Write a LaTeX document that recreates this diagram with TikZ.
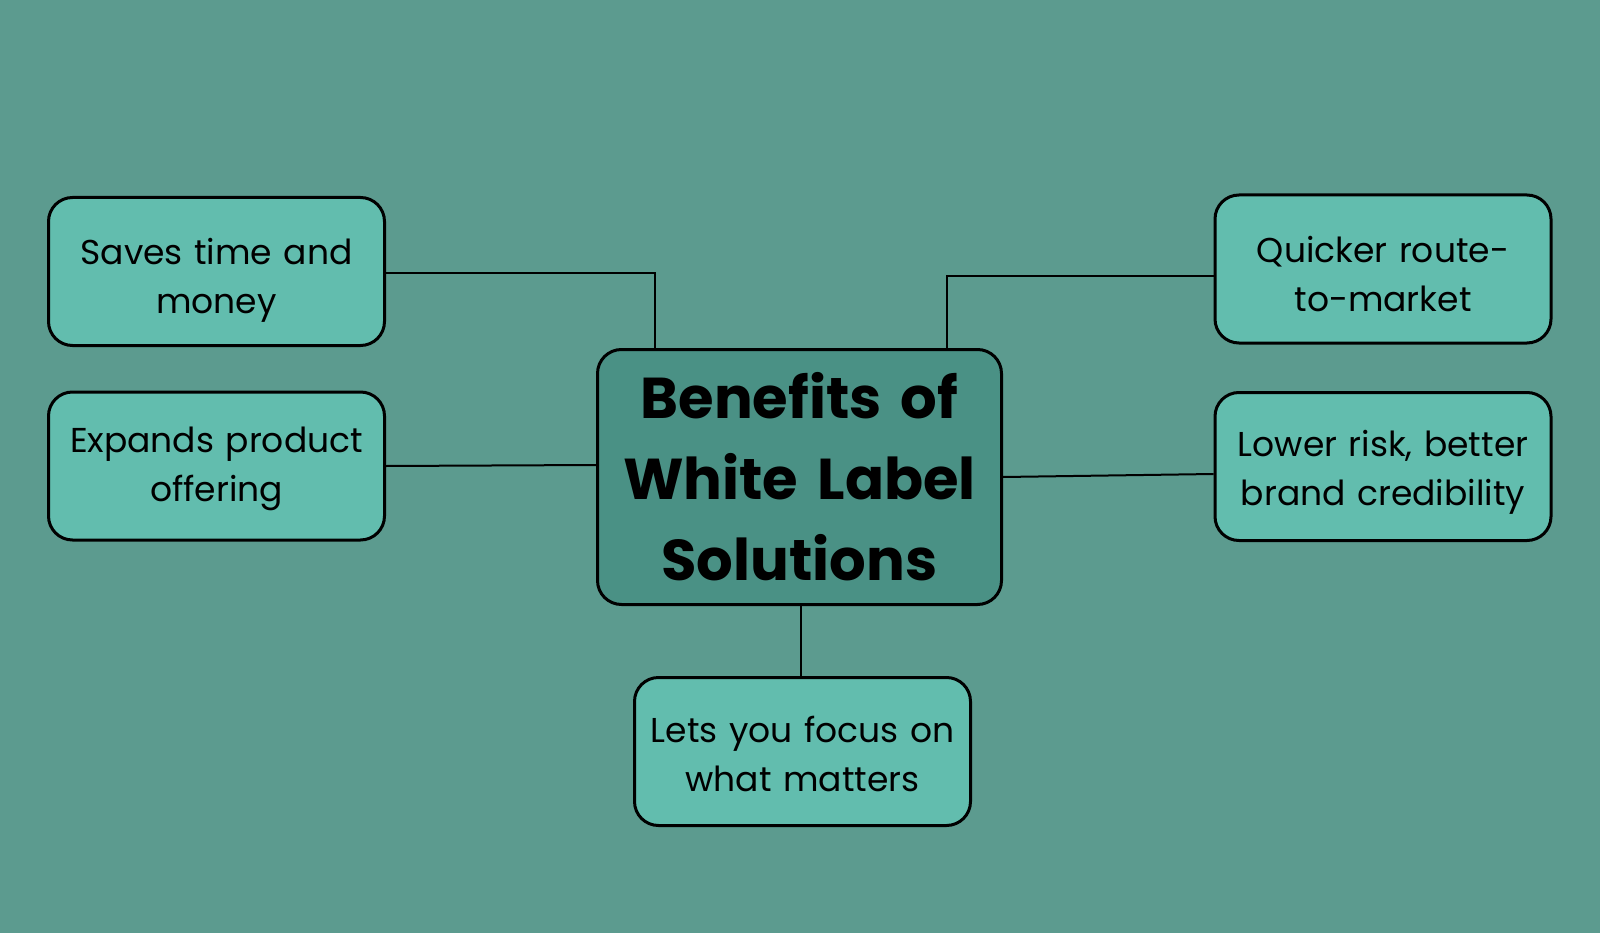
\documentclass[tikz,border=0pt]{standalone}
\usepackage{fontspec}
\setmainfont{Poppins}
\definecolor{bgc}{RGB}{92,155,143}
\definecolor{boxc}{RGB}{98,189,174}
\definecolor{midc}{RGB}{74,145,133}
\begin{document}
\begin{tikzpicture}[x=1pt,y=-1pt,
  leaf/.style={draw=black, line width=3pt, fill=boxc, rounded corners=24pt,
    minimum width=336pt, minimum height=148pt, inner sep=0pt,
    align=center, text width=334pt, font=\fontsize{34.5}{49}\selectfont,
    execute at begin node={\rule{0pt}{#1}}},
  leaf/.default=45pt,
  hub/.style={draw=black, line width=3pt, fill=midc, rounded corners=24pt,
    minimum width=404pt, minimum height=255pt, inner sep=0pt,
    align=center, text width=400pt, font=\fontsize{57.6}{81}\selectfont\bfseries},
  link/.style={draw=black, line width=2pt}]
\fill[bgc] (0,0) rectangle (1600,933);
\useasboundingbox (0,0) rectangle (1600,933);

\node[hub] (c) at (799.5,477) {Benefits of\\White Label\\Solutions};
\node[leaf=43pt] (a) at (216.5,271.5) {Saves time and\\money};
\node[leaf=31pt] (b) at (216.5,466) {Expands product\\offering};
\node[leaf=37pt] (q) at (1383,269) {Quicker route-\\to-market};
\node[leaf=37pt] (l) at (1383,466.5) {Lower risk, better\\brand credibility};
\node[leaf=31pt] (f) at (802.5,751.5) {Lets you focus on\\what matters};

\coordinate (aj) at (655,273);
\coordinate (qj) at (947,276);
\draw[link] (a.east |- aj) -- (aj) -- (aj |- c.north);
\draw[link] (qj |- c.north) -- (qj) -- (qj -| q.west);
\draw[link] (b.east) -- (c.west |- 0,465);
\draw[link] (c.east |- 0,477) -- (l.west |- 0,474);
\draw[link] (c.south -| 801,0) -- (f.north -| 801,0);
\end{tikzpicture}
\end{document}
